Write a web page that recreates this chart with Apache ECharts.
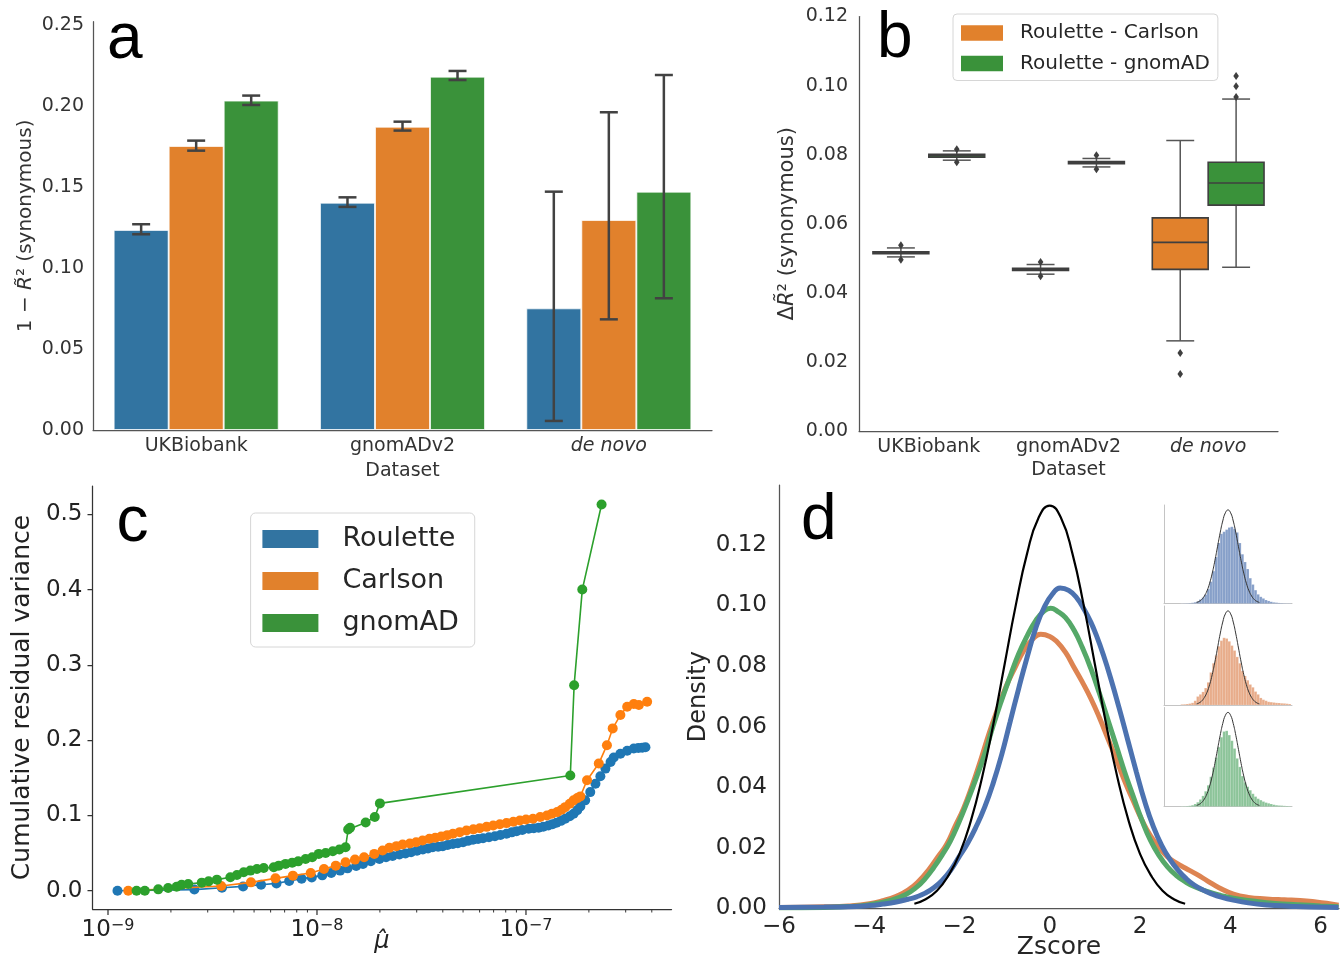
<!DOCTYPE html>
<html>
<head>
<meta charset="utf-8">
<script src="https://cdn.jsdelivr.net/npm/echarts@6.0.0/dist/echarts.min.js"></script>
<style>
html, body { margin: 0; padding: 0; background: #ffffff; }
#chart { width: 1342px; height: 958px; }
</style>
</head>
<body>
<div id="chart"></div>
<script>
// ================= DATA =================
// ---- Panel a : 1 - R~2 (synonymous) bars with CIs ----
const datasets = ['UKBiobank', 'gnomADv2', 'de novo'];
const barRoulette = [0.1235, 0.1403, 0.0751];
const barCarlson  = [0.1753, 0.1872, 0.1296];
const barGnomad   = [0.2033, 0.2181, 0.1471];
const ciRoulette = [[0.1208, 0.1270], [0.1377, 0.1436], [0.0056, 0.1471]];
const ciCarlson  = [[0.1724, 0.1786], [0.1848, 0.1903], [0.0683, 0.1961]];
const ciGnomad   = [[0.2006, 0.2064], [0.2160, 0.2216], [0.0813, 0.2191]];
const aTickValues = [0, 0.05, 0.10, 0.15, 0.20, 0.25];

// ---- Panel b : delta R~2 boxplots [whisker low, Q1, median, Q3, whisker high] ----
const boxCarlson = [
  [0.0504, 0.0513, 0.0516, 0.0519, 0.0530],
  [0.0454, 0.0465, 0.0468, 0.0471, 0.0482],
  [0.0261, 0.0468, 0.0546, 0.0617, 0.0841]
];
const boxGnomad = [
  [0.0784, 0.0793, 0.07975, 0.0801, 0.0811],
  [0.07645, 0.0774, 0.0777, 0.0780, 0.0789],
  [0.0474, 0.0654, 0.0718, 0.0778, 0.0961]
];
const fliersCarlson = [[0.0538, 0.0496], [0.0489, 0.0448], [0.0226, 0.0165]];
const fliersGnomad  = [[0.0816, 0.0778], [0.0798, 0.0758], [0.1028, 0.0998, 0.0967]];
const bTickValues = [0, 0.02, 0.04, 0.06, 0.08, 0.10, 0.12];

// ---- Panel c : cumulative residual variance vs mu-hat ----
const cRouletteMu = [1.11e-9, 2.59e-9, 3.51e-9, 4.43e-9, 5.40e-9, 6.40e-9, 7.36e-9, 8.44e-9, 9.44e-9,
  1.06e-8, 1.17e-8, 1.29e-8, 1.40e-8, 1.54e-8, 1.66e-8, 1.81e-8, 1.99e-8, 2.14e-8, 2.30e-8, 2.48e-8, 2.65e-8, 2.82e-8,
  3.01e-8, 3.21e-8, 3.40e-8, 3.58e-8, 3.80e-8, 4.00e-8, 4.22e-8, 4.47e-8, 4.72e-8, 5.00e-8, 5.28e-8, 5.58e-8, 5.90e-8,
  6.23e-8, 6.65e-8, 7.10e-8, 7.55e-8, 8.07e-8, 8.55e-8, 9.02e-8, 9.60e-8,
  1.03e-7, 1.09e-7, 1.15e-7, 1.21e-7, 1.28e-7, 1.34e-7, 1.40e-7, 1.47e-7, 1.54e-7, 1.62e-7, 1.69e-7, 1.76e-7,
  1.82e-7, 1.92e-7, 2.03e-7, 2.15e-7,
  2.27e-7, 2.40e-7, 2.54e-7, 2.63e-7, 2.83e-7, 3.05e-7, 3.28e-7, 3.45e-7, 3.60e-7, 3.73e-7];
const cRouletteVar = [0, 0.0015, 0.0040, 0.0057, 0.0080, 0.0097, 0.0129, 0.0160, 0.0177,
  0.0204, 0.0236, 0.0267, 0.0297, 0.0329, 0.0356, 0.0391, 0.0422, 0.0444, 0.0462, 0.0480, 0.0495, 0.0511,
  0.0530, 0.0547, 0.0562, 0.0578, 0.0584, 0.0591, 0.0608, 0.0622, 0.0632, 0.0644, 0.0662, 0.0676, 0.0686,
  0.0698, 0.0710, 0.0724, 0.0740, 0.0756, 0.0775, 0.0791, 0.0806,
  0.0822, 0.0830, 0.0836, 0.0850, 0.0867, 0.0884, 0.0902, 0.0928, 0.0956, 0.0990, 0.1022, 0.1070,
  0.1120, 0.1200, 0.1310, 0.1420,
  0.1520, 0.1622, 0.1710, 0.1769, 0.1820, 0.1858, 0.1889, 0.1895, 0.1900, 0.1905];
const cCarlsonMu = [1.25e-9, 3.48e-9, 4.83e-9, 6.33e-9, 7.67e-9, 9.33e-9, 1.08e-8, 1.23e-8, 1.37e-8,
  1.52e-8, 1.68e-8, 1.88e-8, 2.06e-8, 2.22e-8, 2.40e-8, 2.57e-8, 2.78e-8, 2.98e-8, 3.20e-8, 3.45e-8, 3.68e-8, 3.93e-8,
  4.20e-8, 4.47e-8, 4.82e-8, 5.19e-8, 5.60e-8, 6.01e-8, 6.48e-8, 6.97e-8, 7.50e-8, 8.07e-8, 8.70e-8, 9.35e-8,
  1.00e-7, 1.08e-7, 1.17e-7, 1.26e-7, 1.33e-7, 1.41e-7, 1.48e-7, 1.54e-7, 1.62e-7, 1.69e-7, 1.76e-7, 1.82e-7,
  1.96e-7, 2.23e-7, 2.44e-7, 2.60e-7, 2.83e-7, 3.05e-7, 3.28e-7, 3.47e-7, 3.80e-7];
const cCarlsonVar = [0, 0.0062, 0.0111, 0.0164, 0.0200, 0.0236, 0.0289, 0.0333, 0.0378,
  0.0413, 0.0444, 0.0489, 0.0533, 0.0569, 0.0592, 0.0613, 0.0628, 0.0644, 0.0668, 0.0689, 0.0704, 0.0720,
  0.0738, 0.0756, 0.0778, 0.0800, 0.0815, 0.0830, 0.0848, 0.0867, 0.0882, 0.0898, 0.0915, 0.0933,
  0.0945, 0.0956, 0.0978, 0.1000, 0.1022, 0.1044, 0.1075, 0.1110, 0.1155, 0.1200, 0.1230, 0.1253,
  0.1467, 0.1689, 0.1933, 0.2156, 0.2333, 0.2444, 0.2480, 0.2467, 0.2511];
const cGnomadMu = [1.37e-9, 1.50e-9, 1.74e-9, 1.94e-9, 2.13e-9, 2.25e-9, 2.42e-9, 2.81e-9, 3.03e-9,
  3.32e-9, 3.85e-9, 4.14e-9, 4.46e-9, 4.80e-9, 5.16e-9, 5.56e-9, 6.21e-9, 6.56e-9, 7.07e-9, 7.61e-9,
  8.13e-9, 8.82e-9, 9.49e-9, 1.02e-8, 1.10e-8, 1.19e-8, 1.28e-8, 1.37e-8, 1.41e-8, 1.44e-8,
  1.71e-8, 1.89e-8, 2.00e-8, 1.63e-7, 1.70e-7, 1.86e-7, 2.30e-7];
const cGnomadVar = [0, 0, 0.0018, 0.0036, 0.0053, 0.0080, 0.0089, 0.0107, 0.0124,
  0.0147, 0.0178, 0.0209, 0.0244, 0.0267, 0.0289, 0.0302, 0.0311, 0.0333, 0.0356, 0.0373,
  0.0390, 0.0422, 0.0444, 0.0489, 0.0502, 0.0524, 0.0547, 0.0578, 0.0813, 0.0836,
  0.0907, 0.0980, 0.1160, 0.1530, 0.2730, 0.4000, 0.5130];
const cYTickValues = [0, 0.1, 0.2, 0.3, 0.4, 0.5];
const cXDecades = [1e-9, 1e-8, 1e-7];

// ---- Panel d : Z-score densities [z, density] ----
const kdeNormal = [[-3, 0.0015], [-2.75, 0.0030], [-2.5, 0.0058], [-2.25, 0.0107], [-2, 0.0180],
  [-1.75, 0.0288], [-1.5, 0.0432], [-1.25, 0.0608], [-1, 0.0806], [-0.75, 0.1003], [-0.5, 0.1173],
  [-0.25, 0.1289], [0, 0.1330], [0.25, 0.1289], [0.5, 0.1173], [0.75, 0.1003], [1, 0.0806],
  [1.25, 0.0608], [1.5, 0.0432], [1.75, 0.0288], [2, 0.0180], [2.25, 0.0107], [2.5, 0.0058],
  [2.75, 0.0030], [3, 0.0015]];
const kdeRoulette = [[-6.0, 0.0003], [-5.0, 0.0004], [-4.46, 0.0005], [-4.0, 0.0009], [-3.7, 0.0014],
  [-3.4, 0.0021], [-3.14, 0.0030], [-2.95, 0.0038], [-2.76, 0.0050], [-2.57, 0.0068], [-2.38, 0.0093],
  [-2.2, 0.0125], [-2.01, 0.0170], [-1.82, 0.0215], [-1.63, 0.0270], [-1.44, 0.0335], [-1.25, 0.0415],
  [-1.06, 0.0510], [-0.88, 0.0615], [-0.69, 0.0725], [-0.5, 0.0830], [-0.31, 0.0925], [-0.12, 0.0995],
  [0.06, 0.1038], [0.23, 0.1058], [0.42, 0.1050], [0.6, 0.1025], [0.77, 0.0985], [0.91, 0.0945],
  [1.05, 0.0895], [1.17, 0.0845], [1.35, 0.0760], [1.54, 0.0660], [1.73, 0.0555], [1.92, 0.0450],
  [2.1, 0.0355], [2.29, 0.0272], [2.48, 0.0208], [2.67, 0.0160], [2.85, 0.0125], [3.03, 0.0097],
  [3.2, 0.0077], [3.4, 0.0060], [3.6, 0.0047], [3.8, 0.0037], [4.07, 0.0027], [4.4, 0.0018],
  [4.82, 0.0011], [5.3, 0.0007], [5.8, 0.0004], [6.4, 0.0003]];
const kdeCarlson = [[-6.0, 0.0003], [-5.0, 0.0005], [-4.46, 0.0008], [-4.0, 0.0015], [-3.7, 0.0025],
  [-3.4, 0.0040], [-3.14, 0.0060], [-2.9, 0.0090], [-2.67, 0.0130], [-2.48, 0.0170], [-2.29, 0.0210],
  [-2.1, 0.0270], [-1.91, 0.0330], [-1.72, 0.0405], [-1.53, 0.0490], [-1.34, 0.0580], [-1.15, 0.0660],
  [-0.96, 0.0735], [-0.77, 0.0795], [-0.58, 0.0850], [-0.4, 0.0885], [-0.2, 0.0905], [0.0, 0.0898],
  [0.16, 0.0880], [0.35, 0.0845], [0.53, 0.0798], [0.72, 0.0748], [0.91, 0.0693], [1.1, 0.0630],
  [1.29, 0.0560], [1.48, 0.0490], [1.66, 0.0420], [1.85, 0.0355], [2.04, 0.0292], [2.23, 0.0240],
  [2.42, 0.0202], [2.61, 0.0170], [2.8, 0.0150], [3.0, 0.0133], [3.26, 0.0112], [3.5, 0.0090],
  [3.75, 0.0068], [4.07, 0.0047], [4.4, 0.0036], [4.8, 0.0031], [5.2, 0.0028], [5.55, 0.0026],
  [5.9, 0.0021], [6.2, 0.0015], [6.4, 0.0010]];
const kdeGnomad = [[-6.0, 0.0002], [-5.0, 0.0003], [-4.46, 0.0006], [-4.0, 0.0012], [-3.51, 0.0027],
  [-3.2, 0.0045], [-2.95, 0.0070], [-2.76, 0.0098], [-2.57, 0.0135], [-2.39, 0.0175], [-2.2, 0.0223],
  [-2.01, 0.0285], [-1.82, 0.0355], [-1.63, 0.0430], [-1.44, 0.0510], [-1.26, 0.0600], [-1.07, 0.0686],
  [-0.88, 0.0765], [-0.69, 0.0840], [-0.5, 0.0900], [-0.31, 0.0950], [-0.14, 0.0980], [0.02, 0.0991],
  [0.18, 0.0980], [0.35, 0.0960], [0.54, 0.0918], [0.72, 0.0862], [0.91, 0.0792], [1.1, 0.0710],
  [1.29, 0.0622], [1.48, 0.0534], [1.66, 0.0450], [1.85, 0.0370], [2.04, 0.0292], [2.23, 0.0225],
  [2.42, 0.0175], [2.61, 0.0137], [2.8, 0.0109], [3.0, 0.0088], [3.2, 0.0072], [3.5, 0.0055],
  [3.8, 0.0042], [4.07, 0.0033], [4.5, 0.0024], [5.0, 0.0016], [5.5, 0.0012], [6.0, 0.0008], [6.4, 0.0005]];
const dXTickValues = [-6, -4, -2, 0, 2, 4, 6];
const dYTickValues = [0, 0.02, 0.04, 0.06, 0.08, 0.10, 0.12];

// ---- Panel d insets : histogram heights, bins of width 0.25 starting at -4.5 ----
const histBinStart = -4.5;
const histBinWidth = 0.25;
const histRoulette = [0.0002, 0.0003, 0.0004, 0.0006, 0.0010, 0.0018, 0.0030, 0.0058, 0.0085, 0.0128,
  0.0205, 0.0310, 0.0460, 0.0660, 0.0860, 0.0990, 0.1020, 0.1050, 0.1080, 0.1090,
  0.1060, 0.1010, 0.0860, 0.0700, 0.0590, 0.0490, 0.0360, 0.0270, 0.0190, 0.0130,
  0.0095, 0.0072, 0.0050, 0.0036, 0.0024, 0.0016, 0.0012, 0.0008, 0.0006, 0.0004, 0.0003, 0.0003];
const histCarlson = [0.0008, 0.0010, 0.0014, 0.0020, 0.0030, 0.0060, 0.0120, 0.0150, 0.0185, 0.0240,
  0.0320, 0.0460, 0.0590, 0.0700, 0.0830, 0.0910, 0.0950, 0.0940, 0.0900, 0.0840,
  0.0770, 0.0680, 0.0590, 0.0480, 0.0410, 0.0350, 0.0290, 0.0250, 0.0190, 0.0150,
  0.0100, 0.0075, 0.0060, 0.0045, 0.0040, 0.0035, 0.0030, 0.0028, 0.0024, 0.0022, 0.0018, 0.0014];
const histGnomad = [0.0003, 0.0004, 0.0006, 0.0010, 0.0018, 0.0035, 0.0060, 0.0100, 0.0150, 0.0215,
  0.0300, 0.0420, 0.0550, 0.0690, 0.0840, 0.0980, 0.1060, 0.1070, 0.1010, 0.0930,
  0.0820, 0.0680, 0.0560, 0.0430, 0.0340, 0.0280, 0.0230, 0.0180, 0.0140, 0.0110,
  0.0090, 0.0070, 0.0055, 0.0045, 0.0035, 0.0025, 0.0018, 0.0014, 0.0012, 0.0009, 0.0007, 0.0005];

// ================= STYLE CONSTANTS =================
const FONT = 'DejaVu Sans';
const AX = '#555555';
const TXT = '#333333';
const C_BLUE = '#3274a1', C_ORANGE = '#e1812c', C_GREEN = '#3a923a';
const T_BLUE = '#1f77b4', T_ORANGE = '#ff7f0e', T_GREEN = '#2ca02c';
const D_BLUE = '#4c72b0', D_ORANGE = '#dd8452', D_GREEN = '#55a868';
const C_XMIN = 8.43e-10, C_XMAX = 4.97e-7, C_YMIN = -0.0243, C_YMAX = 0.5376;

const pairs = (xs, ys) => xs.map((x, i) => [x, ys[i]]);
const f2 = v => v.toFixed(2);

// panel a error-bar data
const errData = [];
[ciRoulette, ciCarlson, ciGnomad].forEach((ci, m) => ci.forEach((r, i) => errData.push([i, m, r[0], r[1]])));

function renderErr(params, api) {
  const cat = api.value(0), m = api.value(1);
  const band = api.size([1, 0])[0];
  const off = (m - 1) * band * 0.8 / 3;
  const pLo = api.coord([cat, api.value(2)]);
  const pHi = api.coord([cat, api.value(3)]);
  const x = pLo[0] + off, cap = 9;
  const st = { stroke: '#424242', lineWidth: 2.5 };
  return { type: 'group', children: [
    { type: 'line', shape: { x1: x, y1: pLo[1], x2: x, y2: pHi[1] }, style: st },
    { type: 'line', shape: { x1: x - cap, y1: pLo[1], x2: x + cap, y2: pLo[1] }, style: st },
    { type: 'line', shape: { x1: x - cap, y1: pHi[1], x2: x + cap, y2: pHi[1] }, style: st }
  ]};
}

function boxRenderer(side, fill) {
  return function (params, api) {
    const cat = api.value(0);
    const band = api.size([1, 0])[0];
    const w = band * 0.4;
    const cx = api.coord([cat, 0])[0] + side * band * 0.2;
    const y = k => api.coord([cat, api.value(k)])[1];
    const lo = y(1), q1 = y(2), med = y(3), q3 = y(4), hi = y(5);
    const cap = w / 4;
    const wl = { stroke: '#555555', lineWidth: 1.5 };
    return { type: 'group', children: [
      { type: 'line', shape: { x1: cx, y1: lo, x2: cx, y2: q1 }, style: wl },
      { type: 'line', shape: { x1: cx, y1: q3, x2: cx, y2: hi }, style: wl },
      { type: 'line', shape: { x1: cx - cap, y1: lo, x2: cx + cap, y2: lo }, style: wl },
      { type: 'line', shape: { x1: cx - cap, y1: hi, x2: cx + cap, y2: hi }, style: wl },
      { type: 'rect', shape: { x: cx - w / 2, y: q3, width: w, height: Math.max(q1 - q3, 0.5) },
        style: { fill: fill, stroke: '#3f3f3f', lineWidth: 1.6 } },
      { type: 'line', shape: { x1: cx - w / 2, y1: med, x2: cx + w / 2, y2: med }, style: { stroke: '#3f3f3f', lineWidth: 1.6 } }
    ]};
  };
}
function flierRenderer(side) {
  return function (params, api) {
    const cat = api.value(0);
    const band = api.size([1, 0])[0];
    const p = api.coord([cat, api.value(1)]);
    const cx = p[0] + side * band * 0.2, cy = p[1];
    return { type: 'polygon', shape: { points: [[cx, cy - 4], [cx + 2.8, cy], [cx, cy + 4], [cx - 2.8, cy]] },
      style: { fill: '#3f3f3f' } };
  };
}
const flierData = arr => { const out = []; arr.forEach((vals, i) => vals.forEach(v => out.push([i, v]))); return out; };

// panel c tick marks (major decades + minor 2..9)
const cTickData = [];
cXDecades.forEach(d => [1, 2, 3, 4, 5, 6, 7, 8, 9].forEach(m => {
  const v = d * m; if (v >= C_XMIN && v <= C_XMAX) cTickData.push([v, m === 1 ? 1 : 0]);
}));
function renderCTick(params, api) {
  const p = api.coord([api.value(0), C_YMIN]);
  const major = api.value(1) === 1;
  return { type: 'line', shape: { x1: p[0], y1: p[1], x2: p[0], y2: p[1] + (major ? 6 : 3.5) },
    style: { stroke: '#333333', lineWidth: major ? 1.25 : 1 } };
}

function histData(h) { return h.map((v, i) => [histBinStart + i * histBinWidth, histBinStart + (i + 1) * histBinWidth, v]); }
function renderHist(color) {
  return function (params, api) {
    const p0 = api.coord([api.value(0), api.value(2)]);
    const p1 = api.coord([api.value(1), 0]);
    return { type: 'rect', shape: { x: p0[0], y: p0[1], width: p1[0] - p0[0], height: p1[1] - p0[1] },
      style: { fill: color, stroke: 'rgba(255,255,255,0.35)', lineWidth: 0.4 } };
  };
}

// ================= CHART =================
const chart = echarts.init(document.getElementById('chart'), null, { renderer: 'canvas', width: 1342, height: 958 });

const catAxis = (gi, nameGap) => ({
  type: 'category', gridIndex: gi, data: datasets,
  axisLine: { show: true, onZero: false, lineStyle: { color: AX, width: 1.25 } },
  axisTick: { show: false },
  axisLabel: { interval: 0, hideOverlap: false, margin: 7, fontSize: 19, color: TXT, fontFamily: FONT,
    formatter: v => v === 'de novo' ? '{it|de novo}' : v,
    rich: { it: { fontStyle: 'italic', fontSize: 19, color: TXT, fontFamily: FONT } } },
  name: 'Dataset', nameLocation: 'middle', nameGap: nameGap, nameMoveOverlap: false,
  nameTextStyle: { fontSize: 19, color: TXT, fontFamily: FONT },
  splitLine: { show: false }
});
const insetX = gi => ({ type: 'value', gridIndex: gi, min: -6.1, max: 6.1,
  axisLine: { show: true, onZero: false, lineStyle: { color: '#c4c4c4', width: 1 } },
  axisTick: { show: false }, axisLabel: { show: false }, splitLine: { show: false } });
const insetY = gi => ({ type: 'value', gridIndex: gi, min: 0, max: 0.14,
  axisLine: { show: true, onZero: false, lineStyle: { color: '#c4c4c4', width: 1 } },
  axisTick: { show: false }, axisLabel: { show: false }, splitLine: { show: false } });

const option = {
  animation: false,
  backgroundColor: '#ffffff',
  textStyle: { fontFamily: FONT },
  grid: [
    { left: 93, top: 21.7, width: 619, height: 408.3, outerBoundsMode: 'none' },
    { left: 859, top: 16.5, width: 419, height: 414.5, outerBoundsMode: 'none' },
    { left: 92.5, top: 486, width: 579, height: 423, outerBoundsMode: 'none' },
    { left: 779, top: 485, width: 560, height: 423.3, outerBoundsMode: 'none' },
    { left: 1164, top: 505, width: 128, height: 98.5, outerBoundsMode: 'none' },
    { left: 1164, top: 606, width: 128, height: 99, outerBoundsMode: 'none' },
    { left: 1164, top: 707.5, width: 128, height: 99, outerBoundsMode: 'none' }
  ],
  xAxis: [
    catAxis(0, 32),
    catAxis(1, 30),
    { type: 'log', logBase: 10, gridIndex: 2, min: C_XMIN, max: C_XMAX,
      axisLine: { show: true, onZero: false, lineStyle: { color: '#333333', width: 1.25 } },
      axisTick: { show: false },
      axisLabel: { margin: 9, color: '#222222', hideOverlap: false,
        formatter: v => { const e = Math.log10(v); const r = Math.round(e);
          if (Math.abs(e - r) > 1e-6) return ''; return '{b|10}{s|' + (r < 0 ? '\u2212' : '') + Math.abs(r) + '}'; },
        rich: { b: { fontSize: 23, fontFamily: FONT, color: '#222222', verticalAlign: 'bottom', lineHeight: 24 },
                s: { fontSize: 16, fontFamily: FONT, color: '#222222', verticalAlign: 'top', lineHeight: 16, padding: [0, 0, 14, 0] } } },
      name: '\u03bc\u0302', nameLocation: 'middle', nameGap: 21, nameMoveOverlap: false,
      nameTextStyle: { fontSize: 24, fontStyle: 'italic', color: '#222222', fontFamily: FONT },
      splitLine: { show: false }, minorTick: { show: false } },
    { type: 'value', gridIndex: 3, min: -6, max: 6.41,
      axisLine: { show: true, onZero: false, lineStyle: { color: AX, width: 1.25 } },
      axisTick: { show: false },
      axisLabel: { customValues: dXTickValues, margin: 7, fontSize: 23, color: '#262626', fontFamily: FONT,
        formatter: v => (v < 0 ? '\u2212' : '') + Math.abs(v) },
      name: 'Zscore', nameLocation: 'middle', nameGap: 27, nameMoveOverlap: false,
      nameTextStyle: { fontSize: 25, color: '#262626', fontFamily: FONT },
      splitLine: { show: false } },
    insetX(4), insetX(5), insetX(6)
  ],
  yAxis: [
    { type: 'value', gridIndex: 0, min: 0, max: 0.252,
      axisLine: { show: true, onZero: false, lineStyle: { color: AX, width: 1.25 } },
      axisTick: { show: false },
      axisLabel: { customValues: aTickValues, margin: 9, fontSize: 19, color: TXT, fontFamily: FONT, formatter: f2 },
      name: '1 \u2212 {it|R\u0303}\u00b2 (synonymous)', nameLocation: 'middle', nameGap: 57, nameMoveOverlap: false,
      nameTextStyle: { fontSize: 20, color: TXT, fontFamily: FONT,
        rich: { it: { fontStyle: 'italic', fontSize: 20, color: TXT, fontFamily: FONT } } },
      splitLine: { show: false } },
    { type: 'value', gridIndex: 1, min: 0, max: 0.12,
      axisLine: { show: true, onZero: false, lineStyle: { color: AX, width: 1.25 } },
      axisTick: { show: false },
      axisLabel: { customValues: bTickValues, margin: 11, fontSize: 19, color: TXT, fontFamily: FONT, formatter: f2 },
      name: '\u0394{it|R\u0303}\u00b2 (synonymous)', nameLocation: 'middle', nameGap: 61, nameMoveOverlap: false,
      nameTextStyle: { fontSize: 21, color: TXT, fontFamily: FONT,
        rich: { it: { fontStyle: 'italic', fontSize: 21, color: TXT, fontFamily: FONT } } },
      splitLine: { show: false } },
    { type: 'value', gridIndex: 2, min: C_YMIN, max: C_YMAX,
      axisLine: { show: true, onZero: false, lineStyle: { color: '#333333', width: 1.25 } },
      axisTick: { show: true, customValues: cYTickValues, length: 5, lineStyle: { color: '#333333', width: 1.25 } },
      axisLabel: { customValues: cYTickValues, margin: 10, fontSize: 23, color: '#222222', fontFamily: FONT, formatter: v => v.toFixed(1) },
      name: 'Cumulative residual variance', nameLocation: 'middle', nameGap: 58, nameMoveOverlap: false,
      nameTextStyle: { fontSize: 25, color: '#222222', fontFamily: FONT },
      splitLine: { show: false } },
    { type: 'value', gridIndex: 3, min: 0, max: 0.1398,
      axisLine: { show: true, onZero: false, lineStyle: { color: AX, width: 1.25 } },
      axisTick: { show: false },
      axisLabel: { customValues: dYTickValues, margin: 12, fontSize: 23, color: '#262626', fontFamily: FONT, formatter: f2 },
      name: 'Density', nameLocation: 'middle', nameGap: 68, nameMoveOverlap: false,
      nameTextStyle: { fontSize: 24, color: '#262626', fontFamily: FONT },
      splitLine: { show: false } },
    insetY(4), insetY(5), insetY(6)
  ],
  legend: [
    { selectedMode: false, orient: 'vertical', left: 953, top: 14,
      padding: [9, 8, 7, 8], itemGap: 10.5, itemWidth: 42, itemHeight: 15.5,
      backgroundColor: '#ffffff', borderColor: '#d6d6d6', borderWidth: 1, borderRadius: 4,
      textStyle: { fontSize: 20, color: '#262626', fontFamily: FONT, padding: [0, 0, 0, 12] },
      data: [
        { name: 'Roulette - Carlson', icon: 'rect', itemStyle: { color: C_ORANGE, borderWidth: 0 } },
        { name: 'Roulette - gnomAD', icon: 'rect', itemStyle: { color: C_GREEN, borderWidth: 0 } }
      ] },
    { selectedMode: false, orient: 'vertical', left: 250.6, top: 513,
      padding: [12.5, 16, 10.5, 11.8], itemGap: 15, itemWidth: 56, itemHeight: 18,
      backgroundColor: '#ffffff', borderColor: '#d6d6d6', borderWidth: 1, borderRadius: 5,
      textStyle: { fontSize: 27, color: '#262626', fontFamily: FONT, padding: [0, 0, 0, 19] },
      data: [
        { name: 'Roulette', icon: 'rect', itemStyle: { color: C_BLUE, borderWidth: 0 } },
        { name: 'Carlson', icon: 'rect', itemStyle: { color: C_ORANGE, borderWidth: 0 } },
        { name: 'gnomAD', icon: 'rect', itemStyle: { color: C_GREEN, borderWidth: 0 } }
      ] }
  ],
  graphic: [
    { type: 'text', x: 107, y: 40.5, style: { text: 'a', font: '64px "Liberation Sans"', fill: '#000000', verticalAlign: 'middle', align: 'left' } },
    { type: 'text', x: 877, y: 39.5, style: { text: 'b', font: '64px "Liberation Sans"', fill: '#000000', verticalAlign: 'middle', align: 'left' } },
    { type: 'text', x: 116.5, y: 523, style: { text: 'c', font: '64px "Liberation Sans"', fill: '#000000', verticalAlign: 'middle', align: 'left' } },
    { type: 'text', x: 801, y: 521.1, style: { text: 'd', font: '64px "Liberation Sans"', fill: '#000000', verticalAlign: 'middle', align: 'left' } }
  ],
  series: [
    // ---- panel a ----
    { type: 'bar', name: 'Roulette', xAxisIndex: 0, yAxisIndex: 0, data: barRoulette, barGap: '0%', barCategoryGap: '20%',
      itemStyle: { color: C_BLUE, borderColor: 'rgba(255,255,255,0.7)', borderWidth: 1 } },
    { type: 'bar', name: 'Carlson', xAxisIndex: 0, yAxisIndex: 0, data: barCarlson, barGap: '0%', barCategoryGap: '20%',
      itemStyle: { color: C_ORANGE, borderColor: 'rgba(255,255,255,0.7)', borderWidth: 1 } },
    { type: 'bar', name: 'gnomAD', xAxisIndex: 0, yAxisIndex: 0, data: barGnomad, barGap: '0%', barCategoryGap: '20%',
      itemStyle: { color: C_GREEN, borderColor: 'rgba(255,255,255,0.7)', borderWidth: 1 } },
    { type: 'custom', name: 'CI', xAxisIndex: 0, yAxisIndex: 0, data: errData, renderItem: renderErr,
      encode: { x: 0, y: [2, 3] }, z: 5 },
    // ---- panel b ----
    { type: 'custom', name: 'Roulette - Carlson', xAxisIndex: 1, yAxisIndex: 1,
      data: boxCarlson.map((b, i) => [i].concat(b)), renderItem: boxRenderer(-1, C_ORANGE), encode: { x: 0, y: [1, 5] } },
    { type: 'custom', name: 'Roulette - gnomAD', xAxisIndex: 1, yAxisIndex: 1,
      data: boxGnomad.map((b, i) => [i].concat(b)), renderItem: boxRenderer(1, C_GREEN), encode: { x: 0, y: [1, 5] } },
    { type: 'custom', name: 'Roulette - Carlson', xAxisIndex: 1, yAxisIndex: 1,
      data: flierData(fliersCarlson), renderItem: flierRenderer(-1), encode: { x: 0, y: 1 } },
    { type: 'custom', name: 'Roulette - gnomAD', xAxisIndex: 1, yAxisIndex: 1,
      data: flierData(fliersGnomad), renderItem: flierRenderer(1), encode: { x: 0, y: 1 } },
    // ---- panel c ----
    { type: 'line', name: 'Roulette', xAxisIndex: 2, yAxisIndex: 2, data: pairs(cRouletteMu, cRouletteVar),
      symbol: 'circle', symbolSize: 10, showAllSymbol: true, lineStyle: { color: T_BLUE, width: 1.6 }, itemStyle: { color: T_BLUE }, z: 3 },
    { type: 'line', name: 'Carlson', xAxisIndex: 2, yAxisIndex: 2, data: pairs(cCarlsonMu, cCarlsonVar),
      symbol: 'circle', symbolSize: 10, showAllSymbol: true, lineStyle: { color: T_ORANGE, width: 1.6 }, itemStyle: { color: T_ORANGE }, z: 4 },
    { type: 'line', name: 'gnomAD', xAxisIndex: 2, yAxisIndex: 2, data: pairs(cGnomadMu, cGnomadVar),
      symbol: 'circle', symbolSize: 10, showAllSymbol: true, lineStyle: { color: T_GREEN, width: 1.6 }, itemStyle: { color: T_GREEN }, z: 5 },
    { type: 'custom', name: 'ticks', xAxisIndex: 2, yAxisIndex: 2, data: cTickData, renderItem: renderCTick,
      encode: { x: 0 }, silent: true },
    // ---- panel d ----
    { type: 'line', name: 'd-Carlson', xAxisIndex: 3, yAxisIndex: 3, data: kdeCarlson, showSymbol: false,
      smooth: 0.5, lineStyle: { color: D_ORANGE, width: 5 }, z: 2 },
    { type: 'line', name: 'd-gnomAD', xAxisIndex: 3, yAxisIndex: 3, data: kdeGnomad, showSymbol: false,
      smooth: 0.5, lineStyle: { color: D_GREEN, width: 5 }, z: 3 },
    { type: 'line', name: 'd-Roulette', xAxisIndex: 3, yAxisIndex: 3, data: kdeRoulette, showSymbol: false,
      smooth: 0.5, lineStyle: { color: D_BLUE, width: 5 }, z: 4 },
    { type: 'line', name: 'd-Normal', xAxisIndex: 3, yAxisIndex: 3, data: kdeNormal, showSymbol: false,
      smooth: 0.5, lineStyle: { color: '#000000', width: 2.2 }, z: 5 },
    // ---- insets ----
    { type: 'custom', name: 'h1', xAxisIndex: 4, yAxisIndex: 4, data: histData(histRoulette), renderItem: renderHist('rgba(76,114,176,0.68)'), encode: { x: [0, 1], y: 2 } },
    { type: 'line', name: 'n1', xAxisIndex: 4, yAxisIndex: 4, data: kdeNormal, showSymbol: false, smooth: 0.5, lineStyle: { color: '#333333', width: 1 }, z: 5 },
    { type: 'custom', name: 'h2', xAxisIndex: 5, yAxisIndex: 5, data: histData(histCarlson), renderItem: renderHist('rgba(221,132,82,0.68)'), encode: { x: [0, 1], y: 2 } },
    { type: 'line', name: 'n2', xAxisIndex: 5, yAxisIndex: 5, data: kdeNormal, showSymbol: false, smooth: 0.5, lineStyle: { color: '#333333', width: 1 }, z: 5 },
    { type: 'custom', name: 'h3', xAxisIndex: 6, yAxisIndex: 6, data: histData(histGnomad), renderItem: renderHist('rgba(85,168,104,0.68)'), encode: { x: [0, 1], y: 2 } },
    { type: 'line', name: 'n3', xAxisIndex: 6, yAxisIndex: 6, data: kdeNormal, showSymbol: false, smooth: 0.5, lineStyle: { color: '#333333', width: 1 }, z: 5 }
  ]
};
chart.setOption(option);
</script>
</body>
</html>
